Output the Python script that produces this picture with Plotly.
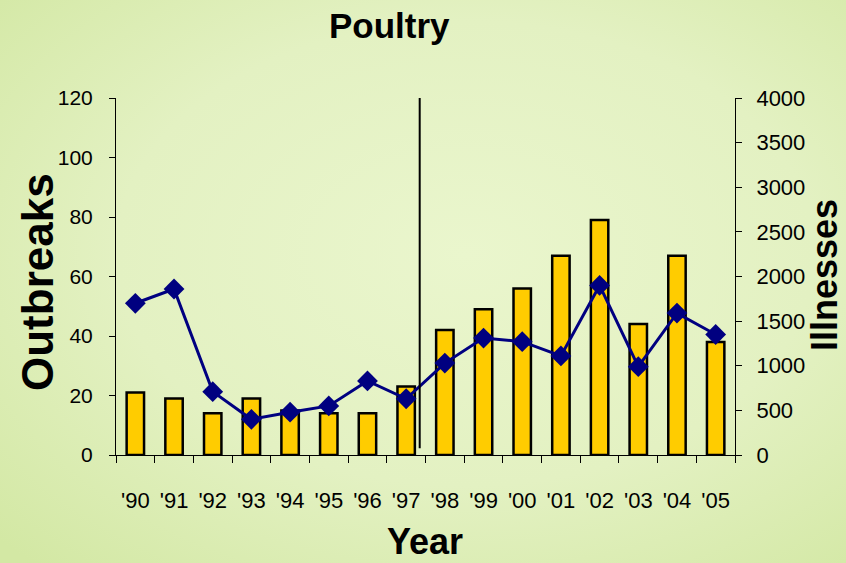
import base64
import plotly.graph_objects as go

years = ["'90", "'91", "'92", "'93", "'94", "'95", "'96", "'97",
         "'98", "'99", "'00", "'01", "'02", "'03", "'04", "'05"]
outbreaks = [21, 19, 14, 19, 15, 14, 14, 23, 42, 49, 56, 67, 79, 44, 67, 38]
illnesses = [1700, 1860, 710, 400, 480, 550, 830, 630,
             1030, 1310, 1270, 1110, 1900, 990, 1590, 1350]

left_ticks = [0, 20, 40, 60, 80, 100, 120]
right_ticks = [0, 500, 1000, 1500, 2000, 2500, 3000, 3500, 4000]

W, H = 846, 563
ML, MR, MT, MB = 116, 111, 98, 108
PW, PH = W - ML - MR, H - MT - MB

svg = f'''<svg xmlns="http://www.w3.org/2000/svg" width="{W}" height="{H}" viewBox="0 0 {W} {H}" preserveAspectRatio="none">
<defs><radialGradient id="g" cx="0.55" cy="0.45" r="0.75">
<stop offset="0" stop-color="#eaf6cd"/>
<stop offset="0.55" stop-color="#e3f1c2"/>
<stop offset="1" stop-color="#d3e8a4"/>
</radialGradient></defs>
<rect width="{W}" height="{H}" fill="url(#g)"/></svg>'''
bg_src = "data:image/svg+xml;base64," + base64.b64encode(svg.encode()).decode()

sans = "Liberation Sans, Arial, sans-serif"

fig = go.Figure()
fig.add_trace(go.Bar(
    x=years, y=outbreaks, name="Outbreaks",
    marker=dict(color="#ffcc00", line=dict(color="black", width=2.5)),
    yaxis="y",
))
fig.add_trace(go.Scatter(
    x=years, y=illnesses, name="Illnesses", mode="lines+markers",
    line=dict(color="#000080", width=3),
    marker=dict(symbol="diamond", size=16, color="#000080"),
    yaxis="y2",
))

fig.add_shape(type="line", xref="x", yref="y", x0=7.35, x1=7.35, y0=2.3, y1=121,
              line=dict(color="black", width=2))

fig.update_layout(
    width=W, height=H,
    margin=dict(l=ML, r=MR, t=MT, b=MB),
    paper_bgcolor="#e2f0c2",
    plot_bgcolor="rgba(0,0,0,0)",
    showlegend=False,
    bargap=0.55,
    images=[dict(source=bg_src, xref="paper", yref="paper",
                 x=-ML / PW, y=1 + MT / PH, sizex=W / PW, sizey=H / PH,
                 sizing="stretch", xanchor="left", yanchor="top", layer="below")],
    xaxis=dict(
        type="category", categoryorder="array", categoryarray=years,
        range=[-0.5, 15.5], tickangle=0,
        tickson="boundaries", ticks="outside", ticklen=7, tickcolor="black",
        showline=True, linecolor="black", linewidth=1,
        showgrid=False, zeroline=False,
        tickfont=dict(family=sans, size=22, color="black"),
        ticklabelstandoff=26,
    ),
    yaxis=dict(
        range=[0, 120], tickvals=left_ticks,
        ticks="outside", ticklen=6, tickcolor="black",
        showline=True, linecolor="black", linewidth=1,
        showgrid=False, zeroline=False,
        tickfont=dict(family=sans, size=21, color="black"),
        ticklabelstandoff=12,
    ),
    yaxis2=dict(
        range=[0, 4000], tickvals=right_ticks, overlaying="y", side="right",
        ticks="outside", ticklen=6, tickcolor="black",
        showline=True, linecolor="black", linewidth=1,
        showgrid=False, zeroline=False,
        tickfont=dict(family=sans, size=22, color="black"),
        ticklabelstandoff=10,
    ),
    annotations=[
        dict(text="<b>Poultry</b>", xref="paper", yref="paper",
             x=(389 - ML) / PW, y=1 + (MT - 25) / PH, showarrow=False,
             xanchor="center", yanchor="middle",
             font=dict(family=sans, size=35, color="black")),
        dict(text="<b>Year</b>", xref="paper", yref="paper",
             x=(425 - ML) / PW, y=-(541 - (MT + PH)) / PH, showarrow=False,
             xanchor="center", yanchor="middle",
             font=dict(family=sans, size=36, color="black")),
        dict(text="<b>Outbreaks</b>", xref="paper", yref="paper",
             x=(37 - ML) / PW, y=1 - (282 - MT) / PH, showarrow=False,
             xanchor="center", yanchor="middle", textangle=-90,
             font=dict(family=sans, size=44, color="black")),
        dict(text="<b>Illnesses</b>", xref="paper", yref="paper",
             x=(824 - ML) / PW, y=1 - (275 - MT) / PH, showarrow=False,
             xanchor="center", yanchor="middle", textangle=-90,
             font=dict(family=sans, size=36, color="black")),
    ],
)

fig.write_html("out.html", config={"displayModeBar": False},
               post_script="document.body.style.margin='0px';")
